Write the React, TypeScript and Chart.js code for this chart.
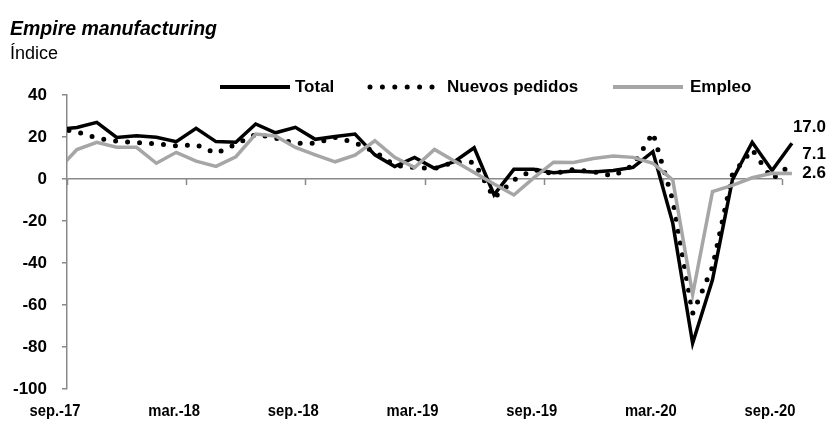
import React, { useEffect, useRef } from 'react';
import { Chart, registerables } from 'chart.js';

Chart.register(...registerables);

// Monthly observations (first one, ago.-17, is partly clipped at the left edge)
const months = [
  'ago.-17', 'sep.-17', 'oct.-17', 'nov.-17', 'dic.-17',
  'ene.-18', 'feb.-18', 'mar.-18', 'abr.-18', 'may.-18', 'jun.-18', 'jul.-18', 'ago.-18', 'sep.-18', 'oct.-18', 'nov.-18', 'dic.-18',
  'ene.-19', 'feb.-19', 'mar.-19', 'abr.-19', 'may.-19', 'jun.-19', 'jul.-19', 'ago.-19', 'sep.-19', 'oct.-19', 'nov.-19', 'dic.-19',
  'ene.-20', 'feb.-20', 'mar.-20', 'abr.-20', 'may.-20', 'jun.-20', 'jul.-20', 'ago.-20', 'sep.-20',
];

const total = [
  23.5, 24.5, 27.0, 19.8, 20.6,
  19.9, 17.8, 24.1, 17.8, 17.5, 26.2, 22.0, 24.6, 18.9, 20.2, 21.4, 11.5,
  5.9, 10.3, 5.1, 8.3, 14.9, -7.5, 4.6, 4.6, 3.0, 3.8, 3.3, 4.0,
  5.5, 13.0, -21.0, -78.2, -48.0, -0.5, 17.5, 4.0, 17.0,
];

const nuevosPedidos = [
  24.0, 22.5, 19.5, 18.0, 17.3,
  16.8, 15.8, 16.3, 12.2, 16.5, 21.3, 19.5, 17.0, 17.0, 19.8, 17.3, 13.0,
  6.5, 5.5, 5.0, 8.0, 8.0, -9.0, -0.5, 4.5, 2.5, 4.5, 3.5, 1.5,
  6.5, 22.0, -10.0, -64.0, -42.0, 2.0, 14.0, 0.0, 7.1,
];

const empleo = [
  4.0, 14.0, 17.5, 15.1, 15.1,
  7.5, 12.7, 8.5, 6.0, 10.6, 21.4, 20.5, 15.0, 11.5, 8.2, 11.4, 18.2,
  10.3, 5.4, 14.1, 8.6, 3.1, -2.4, -7.6, 0.5, 8.0, 7.9, 9.8, 11.0,
  10.3, 7.5, -0.5, -55.0, -6.0, -3.0, 0.6, 2.7, 2.6,
];

const tickLabels = ['sep.-17', 'mar.-18', 'sep.-18', 'mar.-19', 'sep.-19', 'mar.-20', 'sep.-20'];
const seriesNames = ['Total', 'Nuevos pedidos', 'Empleo'];

const FONT = "'Liberation Sans', Arial, sans-serif";
const AXIS_GRAY = '#898989';
const EMP_GRAY = '#A6A6A6';

// x position of month index i (ago.-17 = 0): month centres, sep.-17 tick at 0
const toX = (i: number) => i - 0.5;

const labelStyle = [
  { dy: -16 },
  { dy: -10 },
  { dy: 0 },
];

const endLabelsPlugin = {
  id: 'endLabels',
  afterDatasetsDraw(chart: any) {
    const ctx = chart.ctx;
    ctx.save();
    ctx.font = `bold 17px ${FONT}`;
    ctx.fillStyle = '#000';
    ctx.textAlign = 'right';
    ctx.textBaseline = 'middle';
    chart.data.datasets.forEach((ds: any, di: number) => {
      const meta = chart.getDatasetMeta(di);
      const pt = meta.data[meta.data.length - 1];
      const v = ds.data[ds.data.length - 1].y;
      ctx.fillText(v.toFixed(1), 826, pt.y + labelStyle[di].dy);
    });
    ctx.restore();
  },
};

// tick marks on the zero line + condensed category labels at the bottom
const xAxisPlugin = {
  id: 'xAxisDecor',
  beforeDatasetsDraw(chart: any) {
    const { ctx, scales } = chart;
    const xs = scales.x;
    const y0 = scales.y.getPixelForValue(0);
    ctx.save();
    ctx.strokeStyle = AXIS_GRAY;
    ctx.lineWidth = 1.5;
    xs.ticks.forEach((t: any) => {
      const px = Math.round(xs.getPixelForValue(t.value)) + 0.5;
      ctx.beginPath();
      ctx.moveTo(px, y0);
      ctx.lineTo(px, y0 + 6);
      ctx.stroke();
    });
    ctx.restore();
  },
  afterDraw(chart: any) {
    const { ctx, scales } = chart;
    const xs = scales.x;
    ctx.save();
    ctx.font = `bold 17px ${FONT}`;
    ctx.fillStyle = '#000';
    ctx.textAlign = 'center';
    ctx.textBaseline = 'top';
    const sx = 0.87;
    xs.ticks.forEach((t: any) => {
      const label = tickLabels[Math.round(Number(t.value) / 6)];
      if (!label) return;
      const cx = xs.getPixelForValue(t.value) - 12;
      ctx.save();
      ctx.translate(cx, xs.top + 14);
      ctx.scale(sx, 1);
      ctx.fillText(label, 0, 0);
      ctx.restore();
    });
    ctx.restore();
  },
};

export default function App() {
  const ref = useRef<HTMLCanvasElement>(null);

  useEffect(() => {
    if (!ref.current) return;
    const mk = (arr: number[]) => arr.map((v, i) => ({ x: toX(i), y: v }));
    const clip = { left: 0, top: false, right: false, bottom: false } as any;
    const chart = new Chart(ref.current, {
      type: 'line',
      data: {
        datasets: [
          {
            label: seriesNames[0],
            data: mk(total),
            borderColor: '#000',
            borderWidth: 3.5,
            pointRadius: 0,
            tension: 0,
            clip,
            order: 2,
          },
          {
            label: seriesNames[1],
            data: mk(nuevosPedidos),
            borderColor: '#000',
            borderWidth: 5,
            borderDash: [0, 12],
            borderCapStyle: 'round',
            pointRadius: 0,
            tension: 0,
            clip,
            order: 1,
          },
          {
            label: seriesNames[2],
            data: mk(empleo),
            borderColor: EMP_GRAY,
            borderWidth: 3.5,
            pointRadius: 0,
            tension: 0,
            clip,
            order: 0,
          },
        ],
      },
      options: {
        animation: false,
        responsive: false,
        events: [],
        layout: { padding: { left: 0, right: 47, top: 95, bottom: 0 } },
        plugins: { legend: { display: false }, tooltip: { enabled: false }, title: { display: false } },
        scales: {
          x: {
            type: 'linear',
            min: 0,
            max: 36,
            position: 'bottom',
            afterFit: (s: any) => { s.height = 38; },
            grid: { display: false, drawTicks: false },
            border: { display: false },
            ticks: {
              display: false,
              stepSize: 6,
              autoSkip: false,
              maxRotation: 0,
            },
          },
          y: {
            min: -100,
            max: 40,
            afterFit: (s: any) => { s.width = 67; },
            border: { display: true, color: AXIS_GRAY, width: 1.5 },
            grid: {
              color: (c: any) => (c.tick && c.tick.value === 0 ? AXIS_GRAY : 'rgba(0,0,0,0)'),
              lineWidth: 1.5,
              tickColor: AXIS_GRAY,
              tickLength: 5,
              drawTicks: true,
            },
            ticks: {
              stepSize: 20,
              padding: 15,
              color: '#000',
              font: { family: FONT, size: 17, weight: 'bold' },
            },
          },
        },
      },
      plugins: [xAxisPlugin, endLabelsPlugin],
    } as any);
    return () => chart.destroy();
  }, []);

  const legendText: React.CSSProperties = {
    position: 'absolute',
    top: 78,
    fontFamily: FONT,
    fontWeight: 'bold',
    fontSize: 17,
    lineHeight: '18px',
    color: '#000',
    whiteSpace: 'nowrap',
  };

  return (
    <div style={{ position: 'fixed', left: 0, top: 0, width: 829, height: 427, background: '#fff', overflow: 'hidden' }}>
      <canvas ref={ref} width={829} height={427} style={{ position: 'absolute', left: 0, top: 0, width: 829, height: 427 }} />
      <div style={{ position: 'absolute', left: 10, top: 18, fontFamily: FONT, fontWeight: 'bold', fontStyle: 'italic', fontSize: 19.5, lineHeight: '20px', whiteSpace: 'nowrap' }}>
        Empire manufacturing
      </div>
      <div style={{ position: 'absolute', left: 10, top: 44, fontFamily: FONT, fontSize: 18, lineHeight: '18px', whiteSpace: 'nowrap' }}>
        Índice
      </div>
      <svg style={{ position: 'absolute', left: 0, top: 0 }} width={829} height={100}>
        <line x1={220} y1={87} x2={290} y2={87} stroke="#000" strokeWidth={4} />
        <line x1={370} y1={87} x2={434} y2={87} stroke="#000" strokeWidth={5} strokeDasharray="0 12.4" strokeLinecap="round" />
        <line x1={613} y1={87} x2={683} y2={87} stroke={EMP_GRAY} strokeWidth={4} />
      </svg>
      <div style={{ ...legendText, left: 295 }}>{seriesNames[0]}</div>
      <div style={{ ...legendText, left: 447 }}>{seriesNames[1]}</div>
      <div style={{ ...legendText, left: 690 }}>{seriesNames[2]}</div>
    </div>
  );
}
